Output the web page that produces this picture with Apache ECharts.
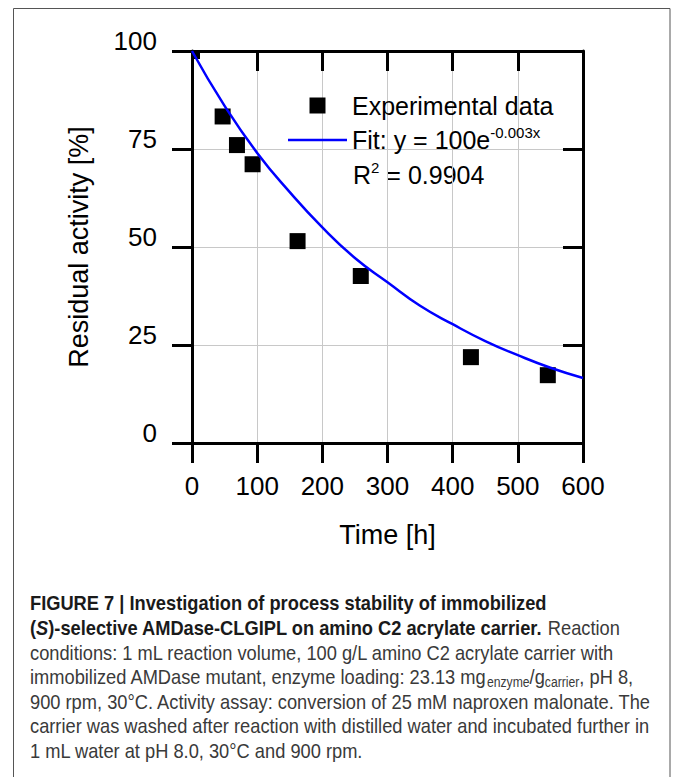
<!DOCTYPE html>
<html>
<head>
<meta charset="utf-8">
<title>Residual activity</title>
<script src="https://cdn.jsdelivr.net/npm/echarts@6/dist/echarts.min.js"></script>
<style>
  html, body { margin: 0; padding: 0; background: #fff; }
  #chart { width: 673px; height: 777px; }
</style>
</head>
<body>
<div id="chart"></div>
<script>
// measured points (time in h, residual activity in %)
const expTime = [0, 47, 69, 93, 162, 259, 428, 546];
const expActivity = [100, 83.3, 76.0, 71.1, 51.5, 42.6, 21.9, 17.3];

// fitted curve
const fitTime = [0, 50, 100, 150, 200, 250, 300, 350, 400, 450, 500, 550, 600];
const fitActivity = [100, 86, 74, 64, 55, 47.2, 41, 35, 30.3, 26, 22.4, 19.2, 16.6];

const xTicks = [0, 100, 200, 300, 400, 500, 600];
const yTicks = [0, 25, 50, 75, 100];

const captionLines = [
  "{b|FIGURE 7 | Investigation of process stability of immobilized}",
  "{b|(}{bi|S}{b|)-selective AMDase-CLGIPL on amino C2 acrylate carrier.}{n| Reaction}",
  "{n|conditions: 1 mL reaction volume, 100 g/L amino C2 acrylate carrier with}",
  "{n|immobilized AMDase mutant, enzyme loading: 23.13 mg}{sub|enzyme}{n|/g}{sub|carrier}{n|, pH 8,}",
  "{n|900 rpm, 30°C. Activity assay: conversion of 25 mM naproxen malonate. The}",
  "{n|carrier was washed after reaction with distilled water and incubated further in}",
  "{n|1 mL water at pH 8.0, 30°C and 900 rpm.}"
];

const FONT = "'Liberation Sans', Arial, sans-serif";
const MARK = 16; // square marker size in px

const chart = echarts.init(document.getElementById("chart"), null, { renderer: "svg" });

const axisLine = () => ({ show: true, onZero: false, lineStyle: { color: "#000", width: 3 } });
const tick = (inside) => ({ show: true, inside, length: 20, lineStyle: { color: "#000", width: 3 } });
const gridLine = { show: true, lineStyle: { color: "#c8c8c8", width: 1 } };

const capRich = {
  b: { fontFamily: FONT, fontSize: 21, fontWeight: "bold", fill: "#1a1a1a", lineHeight: 24 },
  bi: { fontFamily: FONT, fontSize: 21, fontWeight: "bold", fontStyle: "italic", fill: "#1a1a1a", lineHeight: 24 },
  n: { fontFamily: FONT, fontSize: 21, fill: "#3a3a3a", lineHeight: 24 },
  sub: { fontFamily: FONT, fontSize: 14, fill: "#3a3a3a", lineHeight: 14, verticalAlign: "bottom" }
};

// caption is a condensed face; squeeze the regular one horizontally
const caption = captionLines.map((line, i) => ({
  type: "text",
  x: 30,
  y: 603 + i * 24.6,
  scaleX: 0.87,
  style: { text: line, rich: capRich, verticalAlign: "middle", align: "left" },
  silent: true
}));

const option = {
  animation: false,
  backgroundColor: "#fff",
  grid: { left: 192, right: 90, top: 51, bottom: 334 },
  legend: {
    orient: "vertical",
    left: 288,
    top: 93,
    padding: 0,
    itemGap: 7,
    itemWidth: 59,
    itemHeight: 16,
    data: [
      { name: "Experimental data", icon: "path://M0,0H10V10H0Z" },
      { name: "Fit", icon: "path://M0,0H59V2.5H0Z" }
    ],
    formatter: (name) =>
      name === "Fit" ? "{m|Fit: y = 100e}{sup|-0.003x}" : "{m|" + name + "}",
    textStyle: {
      color: "#000",
      rich: {
        m: { fontFamily: FONT, fontSize: 25, color: "#000", lineHeight: 30 },
        sup: { fontFamily: FONT, fontSize: 15, color: "#000", lineHeight: 16, verticalAlign: "top" }
      }
    }
  },
  xAxis: [
    {
      type: "value",
      position: "bottom",
      min: xTicks[0],
      max: xTicks[xTicks.length - 1],
      interval: xTicks[1] - xTicks[0],
      name: "Time [h]",
      nameLocation: "middle",
      nameGap: 78,
      nameTextStyle: { fontFamily: FONT, fontSize: 27, color: "#000" },
      axisLine: axisLine(),
      axisTick: tick(false),
      axisLabel: { fontFamily: FONT, fontSize: 26, color: "#000", margin: 30 },
      splitLine: gridLine
    },
    {
      type: "value",
      position: "top",
      min: xTicks[0],
      max: xTicks[xTicks.length - 1],
      interval: xTicks[1] - xTicks[0],
      axisLine: axisLine(),
      axisTick: tick(true),
      axisLabel: { show: false },
      splitLine: { show: false }
    }
  ],
  yAxis: [
    {
      type: "value",
      position: "left",
      min: yTicks[0],
      max: yTicks[yTicks.length - 1],
      interval: yTicks[1] - yTicks[0],
      name: "Residual activity [%]",
      nameLocation: "middle",
      nameGap: 100,
      nameTextStyle: { fontFamily: FONT, fontSize: 27, color: "#000" },
      axisLine: axisLine(),
      axisTick: tick(false),
      axisLabel: { fontFamily: FONT, fontSize: 26, color: "#000", margin: 35, verticalAlign: "bottom", lineHeight: 20 },
      splitLine: gridLine
    },
    {
      type: "value",
      position: "right",
      min: yTicks[0],
      max: yTicks[yTicks.length - 1],
      interval: yTicks[1] - yTicks[0],
      axisLine: axisLine(),
      axisTick: tick(true),
      axisLabel: { show: false },
      splitLine: { show: false }
    }
  ],
  series: [
    {
      name: "Experimental data",
      type: "custom",
      itemStyle: { color: "#000" },
      encode: { x: 0, y: 1 },
      data: expTime.map((t, i) => [t, expActivity[i]]),
      // squares are cut at the frame like in the original plot
      renderItem: (params, api) => {
        const p = api.coord([api.value(0), api.value(1)]);
        const cs = params.coordSys;
        const shape = echarts.graphic.clipRectByRect(
          { x: p[0] - MARK / 2, y: p[1] - MARK / 2, width: MARK, height: MARK },
          { x: cs.x, y: cs.y, width: cs.width, height: cs.height }
        );
        return shape && { type: "rect", shape, style: { fill: "#000" } };
      },
      z: 2
    },
    {
      name: "Fit",
      type: "line",
      smooth: true,
      showSymbol: false,
      symbol: "none",
      clip: true,
      lineStyle: { color: "#0000ff", width: 2.5 },
      itemStyle: { color: "#0000ff" },
      data: fitTime.map((t, i) => [t, fitActivity[i]]),
      z: 3
    }
  ],
  graphic: [
    {
      type: "rect",
      shape: { x: 13.5, y: 8.5, width: 656.5, height: 800 },
      style: { fill: "none", stroke: "#555", lineWidth: 1 },
      silent: true,
      z: -1
    },
    {
      type: "text",
      left: 353,
      top: 160,
      style: {
        text: "{m|R}{sup|2}{m| = 0.9904}",
        rich: {
          m: { fontFamily: FONT, fontSize: 25, fill: "#000", lineHeight: 30 },
          sup: { fontFamily: FONT, fontSize: 15, fill: "#000", lineHeight: 16, verticalAlign: "top" }
        }
      },
      silent: true
    },
    ...caption
  ]
};

chart.setOption(option);
window.addEventListener("resize", () => chart.resize());
</script>
</body>
</html>
